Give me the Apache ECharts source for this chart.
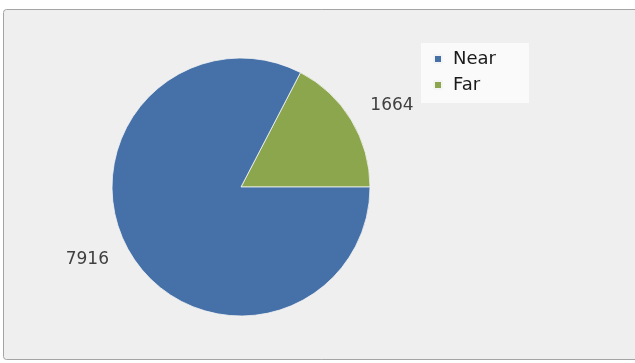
<!DOCTYPE html>
<html>
<head>
<meta charset="utf-8">
<script src="https://cdn.jsdelivr.net/npm/echarts@6/dist/echarts.min.js"></script>
<style>
  html, body { margin: 0; padding: 0; background: #ffffff; }
  #chart { width: 635px; height: 363px; }
</style>
</head>
<body>
<div id="chart"></div>
<script>
// Distance categories and their counts
const categories = ['Near', 'Far'];
const values = [7916, 1664];
const colors = ['#4571a8', '#8ba64c'];
// Label leader geometry per category (line hidden, only used to place the value text)
const labelLines = [
  { length: 10.7, length2: 12.6 },
  { length: 27, length2: -4 }
];

const chart = echarts.init(document.getElementById('chart'), null, { renderer: 'canvas' });

// Far is listed first so it sits just above the 3 o'clock line, running counter-clockwise
const order = [1, 0];
const pieData = order.map(i => ({
  name: categories[i],
  value: values[i],
  itemStyle: { color: colors[i] },
  labelLine: { show: false, length: labelLines[i].length, length2: labelLines[i].length2 }
}));

chart.setOption({
  backgroundColor: '#ffffff',
  animation: false,
  graphic: [{
    type: 'rect',
    shape: { x: 3.5, y: 9.5, width: 640, height: 350, r: 3 },
    style: { fill: '#efefef', stroke: '#a4a4a4', lineWidth: 1 },
    z: -10
  }],
  legend: {
    data: categories,
    orient: 'vertical',
    left: 421,
    top: 43,
    padding: [7, 33, 9, 12],
    backgroundColor: '#fafafa',
    icon: 'rect',
    itemWidth: 8,
    itemHeight: 8,
    itemGap: 8,
    textStyle: {
      fontFamily: 'DejaVu Sans',
      fontSize: 18,
      color: '#1a1a1a',
      padding: [0, 0, 0, 6]
    }
  },
  series: [{
    type: 'pie',
    center: [241, 187],
    radius: 129,
    startAngle: 0,
    clockwise: false,
    data: pieData,
    itemStyle: { borderColor: '#f4f4f4', borderWidth: 0.8 },
    label: {
      show: true,
      position: 'outside',
      formatter: '{c}',
      fontFamily: 'DejaVu Sans',
      fontSize: 17,
      color: '#404040',
      distanceToLabelLine: 0
    },
    labelLine: { show: false },
    emphasis: { disabled: true }
  }]
});
</script>
</body>
</html>
